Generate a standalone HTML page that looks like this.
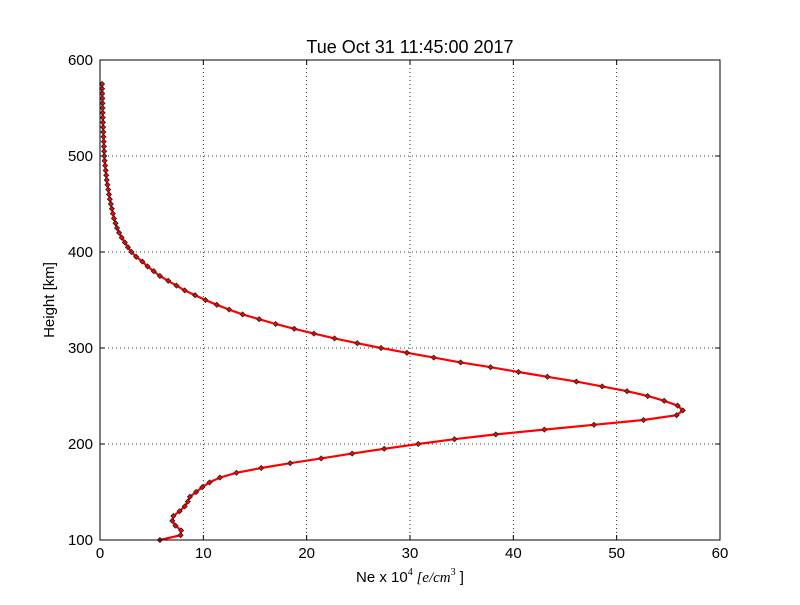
<!DOCTYPE html>
<html><head><meta charset="utf-8"><style>
body{margin:0;background:#fff;}
svg text{font-family:"Liberation Sans",sans-serif;}
</style></head><body>
<svg id="chart" width="800" height="600" xmlns="http://www.w3.org/2000/svg">
<rect width="800" height="600" fill="#fff"/>
<text x="410" y="53" font-size="18" text-anchor="middle">Tue Oct 31 11:45:00 2017</text>
<g id="grid"></g>
<g id="ticks"></g>
<g id="series"></g>
<rect x="100" y="60" width="620" height="480" fill="none" stroke="#000" stroke-width="1"/>
<text transform="translate(54,300) rotate(-90)" font-size="15" text-anchor="middle">Height [km]</text>
<text x="410" y="582" font-size="15" text-anchor="middle">Ne x 10<tspan font-family="Liberation Serif" font-size="10" dy="-7">4</tspan><tspan dy="7" font-family="Liberation Serif" font-style="italic">  [e/cm</tspan><tspan font-family="Liberation Serif" font-size="10" dy="-7">3</tspan><tspan dy="7"> ]</tspan></text>
</svg>
<script>
const heights=[];for(let h=100;h<=580;h+=5)heights.push(h);
const neValues=[5.8,7.8,7.85,7.3,7.0,7.1,7.7,8.2,8.5,8.7,9.3,9.9,10.6,11.6,13.2,15.6,18.4,21.4,24.4,27.5,30.8,34.3,38.3,43.0,47.8,52.6,55.8,56.4,55.9,54.6,53.0,51.0,48.6,46.1,43.3,40.5,37.8,34.9,32.3,29.7,27.2,24.9,22.7,20.7,18.8,17.0,15.4,13.8,12.5,11.3,10.2,9.2,8.2,7.4,6.6,5.8,5.2,4.6,4.1,3.5,3.05,2.7,2.4,2.1,1.85,1.65,1.5,1.35,1.25,1.15,1.05,0.95,0.87,0.8,0.72,0.65,0.6,0.55,0.5,0.45,0.42,0.4,0.38,0.36,0.34,0.32,0.3,0.29,0.27,0.26,0.25,0.24,0.23,0.22,0.21,0.2];
const xTicks=[0,10,20,30,40,50,60];
const yTicks=[100,200,300,400,500,600];
const X=v=>100+v*620/60, Y=v=>540-(v-100)*480/500;
const NS="http://www.w3.org/2000/svg";
function mk(t,a,p){const e=document.createElementNS(NS,t);for(const k in a)e.setAttribute(k,a[k]);p.appendChild(e);return e;}
const grid=document.getElementById('grid'),ticks=document.getElementById('ticks'),ser=document.getElementById('series');
xTicks.forEach(v=>{
 const l=mk('line',{x1:X(v),x2:X(v),y1:60,y2:540,stroke:'#000','stroke-dasharray':'1,3','stroke-width':0.8},grid);
 
 
 mk('line',{x1:X(v),x2:X(v),y1:540,y2:535,stroke:'#000'},ticks);
 mk('line',{x1:X(v),x2:X(v),y1:60,y2:65,stroke:'#000'},ticks);
 const t=mk('text',{x:X(v),y:558,'font-size':15,'text-anchor':'middle'},ticks);t.textContent=v;
 
 
});
yTicks.forEach(v=>{
 const l=mk('line',{x1:100,x2:720,y1:Y(v),y2:Y(v),stroke:'#000','stroke-dasharray':'1,3','stroke-width':0.8},grid);
 
 
 mk('line',{x1:100,x2:105,y1:Y(v),y2:Y(v),stroke:'#000'},ticks);
 mk('line',{x1:715,x2:720,y1:Y(v),y2:Y(v),stroke:'#000'},ticks);
 const t=mk('text',{x:93,y:Y(v)+5,'font-size':15,'text-anchor':'end'},ticks);t.textContent=v;
 
 
});
const pts=heights.map((h,i)=>X(neValues[i]).toFixed(1)+','+Y(h).toFixed(1)).join(' ');
const pl=mk('polyline',{points:pts,fill:'none',stroke:'#f00','stroke-width':2.2},ser);


heights.forEach((h,i)=>{
 const x=X(neValues[i]),y=Y(h);
 const m=mk('polygon',{points:`${x},${y-2.5} ${x+2.5},${y} ${x},${y+2.5} ${x-2.5},${y}`,fill:'#f00',stroke:'#222','stroke-width':0.8},ser);
 
 
});
</script>
</body></html>
